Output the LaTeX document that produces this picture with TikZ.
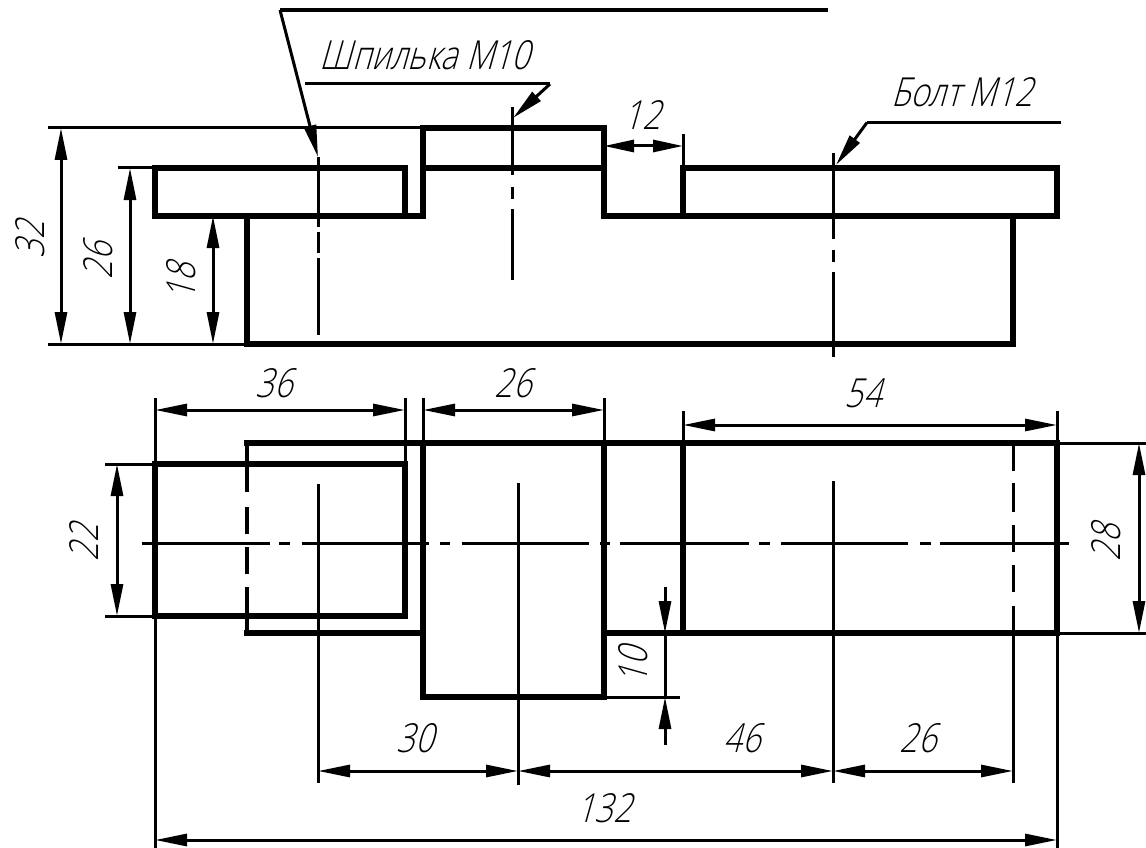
\documentclass[tikz,border=0pt]{standalone}
\usepackage{fontspec}
\setmainfont{Open Sans}[UprightFont=* Light,FakeSlant=0.28,FakeStretch=0.8]
\usetikzlibrary{arrows.meta}
\tikzset{
  part/.style={line width=6.5pt,line join=miter,line cap=rect},
  thin line/.style={line width=3pt},
  center line/.style={line width=3pt},
  hidden edge/.style={line width=4.5pt},
  dimline/.style={line width=3pt,{Stealth[inset=0pt,length=32pt,width=12pt]}-{Stealth[inset=0pt,length=32pt,width=12pt]}},
  endarrow/.style={line width=3pt,-{Stealth[inset=0pt,length=32pt,width=12pt]}},
  lbl/.style={font=\fontsize{40}{40}\selectfont,inner sep=0pt},
  lead/.style={font=\fontsize{40}{40}\selectfont,inner sep=0pt}
}
\begin{document}
\begin{tikzpicture}[x=1pt,y=-1pt]
\useasboundingbox (0,0) rectangle (1146,848);
% --- front view outline
\draw[part] (155,168) -- (405,168) -- (405,216) -- (155,216) -- cycle;
\draw[part] (405,216) -- (423,216) -- (423,128) -- (604,128) -- (604,216) -- (683,216) -- (683,168) -- (1057,168) -- (1057,216) -- (683,216);
\draw[part] (423,168) -- (604,168);
\draw[part] (247,216) -- (247,344) -- (1013,344) -- (1013,216);
\draw[part] (683,216) -- (1013,216);
% --- front view centre lines
\draw[center line] (318,157) -- (318,227) (318,232) -- (318,253) (318,258) -- (318,335);
\draw[center line] (512,107) -- (512,175) (512,187) -- (512,199) (512,209) -- (512,280);
\draw[center line] (833,153) -- (833,239) (833,250) -- (833,262) (833,272) -- (833,357);
% --- leaders
\coordinate (la) at (280,10);
\coordinate (lb) at (318,157);
\draw[thin line,line width=3.4pt] (828,10) -- (la);
\draw[endarrow] (la) -- (lb);
\coordinate (sa) at (550,84);
\coordinate (sb) at (513,118);
\draw[thin line] (305,84) -- (sa);
\draw[endarrow] (sa) -- (sb);
\coordinate (ba) at (867,122.5);
\coordinate (bb) at (836,165);
\draw[thin line] (1061,122.5) -- (ba);
\draw[endarrow] (ba) -- (bb);
\node[lead] (t1) at (425,55) {Шпилька М10};
\node[lead] (t2) at (962,92) {Болт М12};
% --- front view dimensions
\draw[thin line] (48,128) -- (423,128) (118,168) -- (155,168) (48,344) -- (247,344) (683,134) -- (683,168);
\draw[dimline] (61,128) -- (61,344);
\draw[dimline] (130,168) -- (130,344);
\draw[dimline] (213,216) -- (213,344);
\draw[line width=3pt,{Stealth[inset=0pt,length=30pt,width=12pt]}-{Stealth[inset=0pt,length=30pt,width=12pt]}] (604,146) -- (683,146);
\node[lbl,rotate=90] (d32) at (30,240) {32};
\node[lbl,rotate=90] (d26a) at (98,261) {26};
\node[lbl,rotate=90] (d18) at (181,282) {18};
\node[lbl] (d12) at (642,115) {12};
% --- top view outline
\draw[part] (155,464) rectangle (405,616);
\draw[part] (1057,443) -- (247,443) (1057,443) -- (1057,633) -- (604,633);
\draw[part] (247,633) -- (423,633);
\draw[hidden edge] (247,443) -- (247,492) (247,507) -- (247,534) (247,547) -- (247,574) (247,587) -- (247,633);
\draw[part] (423,443) -- (423,697) -- (604,697) -- (604,443);
\draw[part] (683,443) -- (683,633);
% --- top view centre and hidden lines
\draw[center line] (142,543) -- (270,543) (279,543) -- (290,543) (302,543) -- (429,543) (440,543) -- (450,543) (462,543) -- (589,543) (600,543) -- (610,543) (620,543) -- (749,543) (759,543) -- (770,543) (781,543) -- (908,543) (920,543) -- (931,543) (940,543) -- (1069,543);
\draw[center line] (318,484) -- (318,783);
\draw[center line] (518,483) -- (518,785);
\draw[center line] (833,481) -- (833,783);
\draw[center line] (1013,443) -- (1013,471) (1013,483) -- (1013,512) (1013,525) -- (1013,552) (1013,565) -- (1013,592) (1013,606) -- (1013,783);
% --- top view extension lines
\draw[thin line] (155,398) -- (155,848) (405,398) -- (405,464) (423,398) -- (423,443) (604,398) -- (604,443) (683,411) -- (683,443) (1057,411) -- (1057,443) (1057,633) -- (1057,848);
\draw[thin line] (105,464) -- (155,464) (105,616) -- (155,616) (1057,443) -- (1146,443) (1057,633) -- (1146,633) (604,697) -- (680,697);
% --- top view dimensions
\draw[dimline] (155,410) -- (405,410);
\draw[dimline] (423,410) -- (604,410);
\draw[dimline] (683,425) -- (1057,425);
\draw[dimline] (1139,443) -- (1139,633);
\draw[dimline] (117,464) -- (117,616);
\coordinate (ua) at (665,587);
\coordinate (ub) at (665,633);
\coordinate (va) at (665,745);
\coordinate (vb) at (665,697);
\draw[endarrow] (ua) -- (ub);
\draw[endarrow] (va) -- (vb);
\draw[thin line] (ub) -- (vb);
\draw[dimline] (318,771) -- (518,771);
\draw[dimline] (518,771) -- (833,771);
\draw[dimline] (833,771) -- (1013,771);
\draw[dimline] (155,840) -- (1057,840);
\node[lbl] (d36) at (274,383) {36};
\node[lbl] (d26b) at (513,383) {26};
\node[lbl] (d54) at (863,393) {54};
\node[lbl,rotate=90] (d28) at (1106,543) {28};
\node[lbl,rotate=90] (d22) at (84,543) {22};
\node[lbl,rotate=90] (d10) at (633,666) {10};
\node[lbl] (d30) at (415,738) {30};
\node[lbl] (d46) at (742,738) {46};
\node[lbl] (d26c) at (918,738) {26};
\node[lbl] (d132) at (604,808) {132};
\end{tikzpicture}
\end{document}
